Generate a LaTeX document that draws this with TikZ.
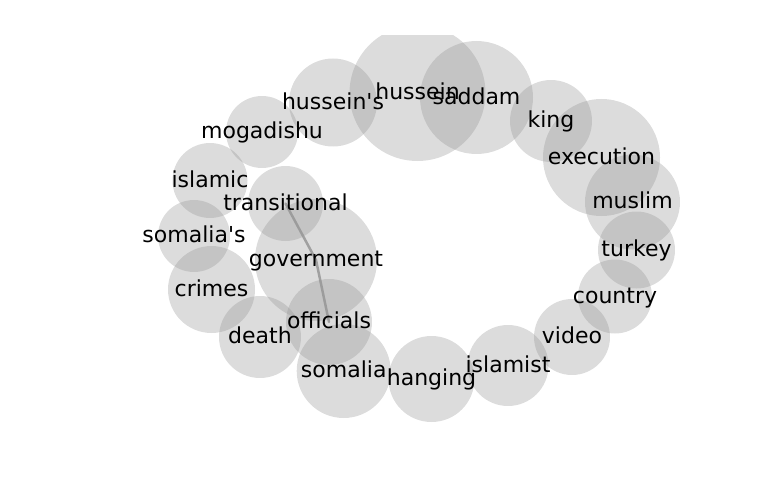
\documentclass[tikz,border=0pt]{standalone}
\usepackage{fontspec}
\setmainfont{DejaVu Sans}
\definecolor{bubgray}{RGB}{143,143,143}
\definecolor{edgegray}{RGB}{150,150,150}
\tikzset{
  bub/.style={circle, draw=none, fill=bubgray, fill opacity=0.31, inner sep=0pt, outer sep=0pt},
  word/.style={inner sep=0pt, outer sep=0pt, text height=1.32em, text depth=0pt, anchor=center, font=\fontsize{22}{26}\selectfont, text=black},
  link/.style={draw=edgegray, line width=2.5pt, draw opacity=0.85, line cap=round, line join=round}
}
\begin{document}
\begin{tikzpicture}[x=1pt,y=-1pt]
\useasboundingbox (0,0) rectangle (768,500);
\begin{scope}
\clip (0,36) rectangle (768,500);
\node[bub, minimum size=136pt] (hussein) at (417.5,93) {};
\node[bub, minimum size=113pt] (saddam) at (476.5,97.5) {};
\node[bub, minimum size=88pt] (husseins) at (333,102.5) {};
\node[bub, minimum size=82pt] (king) at (551,121) {};
\node[bub, minimum size=117pt] (execution) at (601.5,157.5) {};
\node[bub, minimum size=95pt] (muslim) at (632.5,202) {};
\node[bub, minimum size=77pt] (turkey) at (636.5,250) {};
\node[bub, minimum size=74pt] (country) at (615,296.5) {};
\node[bub, minimum size=76pt] (video) at (572,337) {};
\node[bub, minimum size=81pt] (islamist) at (508,365.5) {};
\node[bub, minimum size=86pt] (hanging) at (431.5,379) {};
\node[bub, minimum size=94pt] (somalia) at (343.7,371) {};
\node[bub, minimum size=86pt] (officials) at (329,322) {};
\node[bub, minimum size=82pt] (death) at (260,337) {};
\node[bub, minimum size=87pt] (crimes) at (211.5,289.5) {};
\node[bub, minimum size=72pt] (somalias) at (194,236) {};
\node[bub, minimum size=75pt] (islamic) at (210,180.5) {};
\node[bub, minimum size=72pt] (mogadishu) at (262,132) {};
\node[bub, minimum size=75pt] (transitional) at (285.5,203.5) {};
\node[bub, minimum size=122pt] (government) at (316,260) {};
\end{scope}
\draw[link] (transitional.center) -- (government.center) -- (officials.center);
\node[word] (t-hussein) at (hussein.center) {hussein};
\node[word] (t-saddam) at (saddam.center) {saddam};
\node[word] (t-husseins) at (husseins.center) {hussein\textquotesingle s};
\node[word] (t-king) at (king.center) {king};
\node[word] (t-execution) at (execution.center) {execution};
\node[word] (t-muslim) at (muslim.center) {muslim};
\node[word] (t-turkey) at (turkey.center) {turkey};
\node[word] (t-country) at (country.center) {country};
\node[word] (t-video) at (video.center) {video};
\node[word] (t-islamist) at (islamist.center) {islamist};
\node[word] (t-hanging) at (hanging.center) {hanging};
\node[word] (t-somalia) at (somalia.center) {somalia};
\node[word] (t-officials) at (officials.center) {officials};
\node[word] (t-death) at (death.center) {death};
\node[word] (t-crimes) at (crimes.center) {crimes};
\node[word] (t-somalias) at (somalias.center) {somalia\textquotesingle s};
\node[word] (t-islamic) at (islamic.center) {islamic};
\node[word] (t-mogadishu) at (mogadishu.center) {mogadishu};
\node[word] (t-transitional) at (transitional.center) {transitional};
\node[word] (t-government) at (government.center) {government};
\end{tikzpicture}
\end{document}
